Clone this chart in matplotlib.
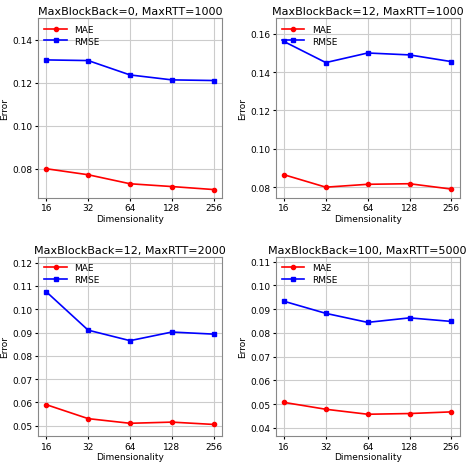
import matplotlib
matplotlib.use("Agg")
import matplotlib.pyplot as plt
from matplotlib.ticker import MultipleLocator, FormatStrFormatter

dims = ["16", "32", "64", "128", "256"]
titles = ["MaxBlockBack=0, MaxRTT=1000", "MaxBlockBack=12, MaxRTT=1000",
          "MaxBlockBack=12, MaxRTT=2000", "MaxBlockBack=100, MaxRTT=5000"]
mae = [[0.0800, 0.0772, 0.0730, 0.0717, 0.0703],
       [0.0865, 0.0800, 0.0815, 0.0818, 0.0790],
       [0.0590, 0.0530, 0.0510, 0.0515, 0.0505],
       [0.0507, 0.0478, 0.0457, 0.0460, 0.0467]]
rmse = [[0.1307, 0.1304, 0.1237, 0.1214, 0.1211],
        [0.1560, 0.1450, 0.1500, 0.1490, 0.1455],
        [0.1075, 0.0910, 0.0865, 0.0902, 0.0893],
        [0.0933, 0.0882, 0.0844, 0.0863, 0.0848]]
ylims = [(0.0665, 0.150), (0.0745, 0.168), (0.0455, 0.1225), (0.0365, 0.112)]
steps = [0.02, 0.02, 0.01, 0.01]

fig, axes = plt.subplots(2, 2, figsize=(4.74, 4.64), dpi=100)
x = list(range(len(dims)))
for i, ax in enumerate(axes.flat):
    ax.plot(x, mae[i], color="red", marker="o", markersize=3, lw=1.2, label="MAE")
    ax.plot(x, rmse[i], color="blue", marker="s", markersize=3, lw=1.2, label="RMSE")
    ax.set_xticks(x)
    ax.set_xticklabels(dims)
    ax.set_ylim(*ylims[i])
    ax.yaxis.set_major_locator(MultipleLocator(steps[i]))
    ax.yaxis.set_major_formatter(FormatStrFormatter("%.2f"))
    ax.grid(True, color="#cccccc", lw=0.8)
    ax.set_title(titles[i], fontsize=8, pad=3)
    ax.set_xlabel("Dimensionality", fontsize=6.5, labelpad=1)
    ax.set_ylabel("Error", fontsize=6.5, labelpad=2)
    ax.tick_params(labelsize=6.5, length=2, pad=2)
    for s in ax.spines.values():
        s.set_color("#888888")
    ax.legend(loc="upper left", fontsize=6.5, frameon=False, handlelength=2.5,
              borderaxespad=0.3, labelspacing=0.3)

fig.subplots_adjust(left=0.08, right=0.97, top=0.958, bottom=0.058, wspace=0.29, hspace=0.33)
fig.savefig("out.png")
